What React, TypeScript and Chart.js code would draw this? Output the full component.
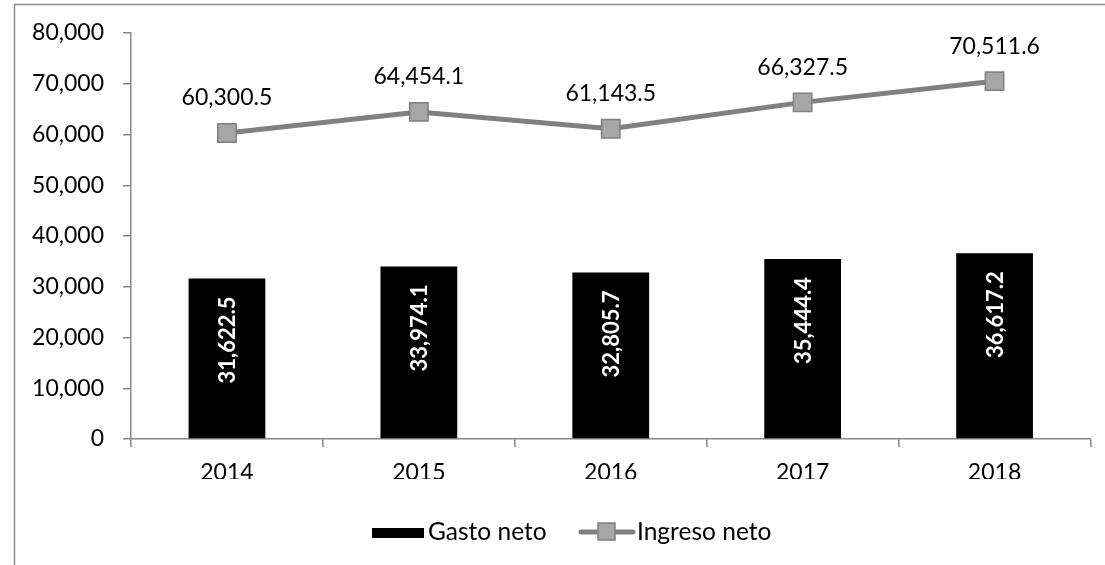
import React, { useEffect, useRef } from "react";
import { Chart, registerables } from "chart.js";

Chart.register(...registerables);

const categories = ["2014", "2015", "2016", "2017", "2018"];
const gastoNeto = [31622.5, 33974.1, 32805.7, 35444.4, 36617.2];
const ingresoNeto = [60300.5, 64454.1, 61143.5, 66327.5, 70511.6];
const seriesNames = ["Gasto neto", "Ingreso neto"];
const yTicks = { min: 0, max: 80000, step: 10000 };

const FONT = "Lato, 'Open Sans', sans-serif";
const AXIS = "#868686";
const LINE = "#808080";
const MARK_FILL = "#a6a6a6";
const MARK_BORDER = "#7f7f7f";

const fmt = (v: number, d = 1) =>
  v.toLocaleString("en-US", { minimumFractionDigits: d, maximumFractionDigits: d });

const decorPlugin = {
  id: "decor",
  beforeDraw(chart: any) {
    const ctx = chart.ctx;
    ctx.save();
    ctx.fillStyle = "#ffffff";
    ctx.fillRect(0, 0, chart.width, chart.height);
    ctx.strokeStyle = "#8a8a8a";
    ctx.lineWidth = 1.5;
    ctx.strokeRect(14.5, 4.5, 2000, 2000);
    ctx.restore();
  },
  afterDatasetsDraw(chart: any) {
    const ctx = chart.ctx;
    ctx.save();
    const barMeta = chart.getDatasetMeta(0);
    ctx.font = `bold 22px ${FONT}`;
    ctx.fillStyle = "#ffffff";
    barMeta.data.forEach((el: any, i: number) => {
      ctx.save();
      ctx.translate(el.x, el.y + 18);
      ctx.rotate(-Math.PI / 2);
      ctx.textAlign = "right";
      ctx.textBaseline = "middle";
      ctx.fillText(fmt(gastoNeto[i]), 0, 1);
      ctx.restore();
    });
    const lineMeta = chart.getDatasetMeta(1);
    ctx.font = `23px ${FONT}`;
    ctx.fillStyle = "#000000";
    ctx.textAlign = "center";
    ctx.textBaseline = "middle";
    lineMeta.data.forEach((el: any, i: number) => {
      ctx.fillText(fmt(ingresoNeto[i]), el.x, el.y - 35);
    });
    ctx.restore();
  },
  afterDraw(chart: any) {
    const ctx = chart.ctx;
    ctx.save();
    const cy = 532;
    ctx.font = `24.5px ${FONT}`;
    ctx.textBaseline = "middle";
    ctx.textAlign = "left";
    ctx.fillStyle = "#000000";
    ctx.fillRect(372, 528, 52, 10);
    ctx.fillText(seriesNames[0], 428, cy);
    ctx.strokeStyle = LINE;
    ctx.lineWidth = 5;
    ctx.lineCap = "round";
    ctx.beginPath();
    ctx.moveTo(581, cy);
    ctx.lineTo(633, cy);
    ctx.stroke();
    ctx.fillStyle = MARK_FILL;
    ctx.strokeStyle = MARK_BORDER;
    ctx.lineWidth = 1.5;
    ctx.fillRect(598, cy - 9, 17, 17);
    ctx.strokeRect(598, cy - 9, 17, 17);
    ctx.fillStyle = "#000000";
    ctx.fillText(seriesNames[1], 637, cy);
    ctx.restore();
  },
};

export default function App() {
  const ref = useRef<HTMLCanvasElement | null>(null);
  useEffect(() => {
    if (!ref.current) return;
    const chart = new Chart(ref.current, {
      type: "bar",
      data: {
        labels: categories,
        datasets: [
          {
            type: "bar",
            label: seriesNames[0],
            data: gastoNeto,
            backgroundColor: "#000000",
            borderWidth: 0,
            barPercentage: 0.4,
            categoryPercentage: 1,
            order: 2,
          },
          {
            type: "line",
            label: seriesNames[1],
            data: ingresoNeto,
            borderColor: LINE,
            borderWidth: 5,
            pointStyle: "rect",
            pointRadius: 13,
            pointBackgroundColor: MARK_FILL,
            pointBorderColor: MARK_BORDER,
            pointBorderWidth: 1.5,
            tension: 0,
            order: 1,
          } as any,
        ],
      },
      options: {
        animation: false,
        responsive: true,
        maintainAspectRatio: false,
        layout: { padding: { left: 0, right: 11, top: 33, bottom: 86 } },
        plugins: { legend: { display: false }, tooltip: { enabled: false } },
        scales: {
          x: {
            offset: true,
            grid: {
              offset: true,
              drawOnChartArea: false,
              drawTicks: true,
              tickLength: 8,
              color: AXIS,
              lineWidth: 1.5,
            },
            border: { display: true, color: AXIS, width: 1.5 },
            ticks: { color: "#000", font: { family: FONT, size: 23 }, padding: 12 },
            afterFit(scale: any) {
              scale.height = 40;
              scale.paddingLeft = 0;
              scale.paddingRight = 0;
            },
          },
          y: {
            min: yTicks.min,
            max: yTicks.max,
            grid: {
              drawOnChartArea: false,
              drawTicks: true,
              tickLength: 8,
              color: AXIS,
              lineWidth: 1.5,
            },
            border: { display: true, color: AXIS, width: 1.5 },
            ticks: {
              stepSize: yTicks.step,
              color: "#000",
              font: { family: FONT, size: 23 },
              padding: 19,
              callback: (v: any) => Number(v).toLocaleString("en-US"),
            },
            afterFit(scale: any) {
              scale.width = 131;
              scale.paddingTop = 0;
              scale.paddingBottom = 0;
            },
          },
        },
      },
      plugins: [decorPlugin],
    });
    return () => chart.destroy();
  }, []);
  return (
    <div style={{ position: "absolute", left: 0, top: 0, width: 1105, height: 565 }}>
      <canvas ref={ref} />
    </div>
  );
}
